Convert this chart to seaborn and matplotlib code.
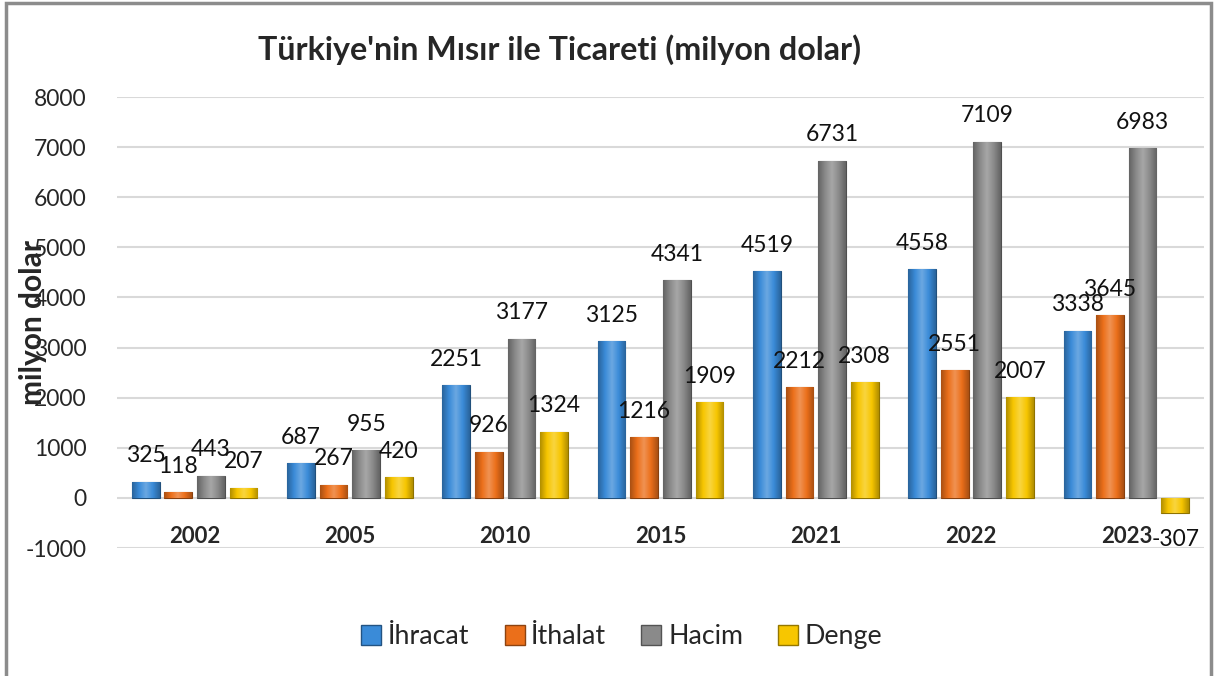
import numpy as np
import pandas as pd
import seaborn as sns
import matplotlib.pyplot as plt
from matplotlib.colors import LinearSegmentedColormap, to_rgb
from matplotlib.patches import Rectangle

years = ['2002', '2005', '2010', '2015', '2021', '2022', '2023']
ihracat = [325, 687, 2251, 3125, 4519, 4558, 3338]
ithalat = [118, 267, 926, 1216, 2212, 2551, 3645]
hacim = [443, 955, 3177, 4341, 6731, 7109, 6983]
denge = [207, 420, 1324, 1909, 2308, 2007, -307]
series = ['İhracat', 'İthalat', 'Hacim', 'Denge']
colors = ['#3a8bd8', '#eb6f1a', '#8a8a8a', '#f7c600']

df = pd.DataFrame({'Yıl': years * 4,
                   'Seri': np.repeat(series, len(years)),
                   'Değer': ihracat + ithalat + hacim + denge})

sns.set_style('white')
plt.rcParams['font.family'] = ['Lato', 'DejaVu Sans']
plt.rcParams['axes.unicode_minus'] = False

fig = plt.figure(figsize=(12.17, 6.76), dpi=100)
ax = fig.add_axes([0.0961, 0.1893, 0.8932, 0.6672])

sns.barplot(data=df, x='Yıl', y='Değer', hue='Seri', palette=colors,
            width=0.84, gap=0.15, ax=ax, legend=False, zorder=3)

# bevel-like shading on each bar
for cont, col in zip(ax.containers, colors):
    base = np.array(to_rgb(col))
    dark = base * 0.72
    light = np.clip(base + (1 - base) * 0.25, 0, 1)
    cmap = LinearSegmentedColormap.from_list('b', [dark, base, light, base, dark])
    for p in cont.patches:
        x0, y0 = p.get_x(), p.get_y()
        w, h = p.get_width(), p.get_height()
        grad = np.linspace(0, 1, 64).reshape(1, -1)
        im = ax.imshow(grad, cmap=cmap, aspect='auto', zorder=4,
                       extent=(x0, x0 + w, min(y0, y0 + h), max(y0, y0 + h)))
        im.set_clip_path(p)
        p.set_edgecolor(dark * 0.8)
        p.set_linewidth(0.8)
    ax.bar_label(cont, padding=11, fontsize=16.5, color='#111111', zorder=5)

ax.set_xlim(-0.5, len(years) - 0.5)
ax.set_ylim(-1000, 8000)
ax.set_yticks(range(-1000, 8001, 1000))
ax.yaxis.grid(True, color='#d9d9d9', linewidth=1.5, zorder=0)
ax.set_axisbelow(True)
for s in ax.spines.values():
    s.set_visible(False)
ax.spines['bottom'].set_position(('data', 0))
ax.tick_params(axis='x', length=0, pad=20, labelsize=16)
ax.tick_params(axis='y', length=0, pad=22, labelsize=16.5)
for t in ax.get_xticklabels():
    t.set_fontweight('bold')
ax.set_xlabel('')
ax.set_ylabel('milyon dolar', fontsize=21.5, fontweight='bold')
ax.yaxis.set_label_coords(-0.064, 0.5)

fig.text(0.460, 0.926, "Türkiye'nin Mısır ile Ticareti (milyon dolar)",
         ha='center', va='center', fontsize=23.2, fontweight='bold')

handles = [Rectangle((0, 0), 1, 1, facecolor=c, edgecolor=np.array(to_rgb(c)) * 0.6)
           for c in colors]
fig.legend(handles, series, loc='center', bbox_to_anchor=(0.511, 0.058), ncol=4,
           frameon=False, fontsize=19.3, handlelength=0.75, handleheight=0.75,
           handletextpad=0.25, columnspacing=1.3)

fig.patches.append(Rectangle((0.005, -0.01), 0.99, 1.005, transform=fig.transFigure,
                             fill=False, edgecolor='#8c8c8c', linewidth=2.5))

fig.savefig('out.png', dpi=100)
